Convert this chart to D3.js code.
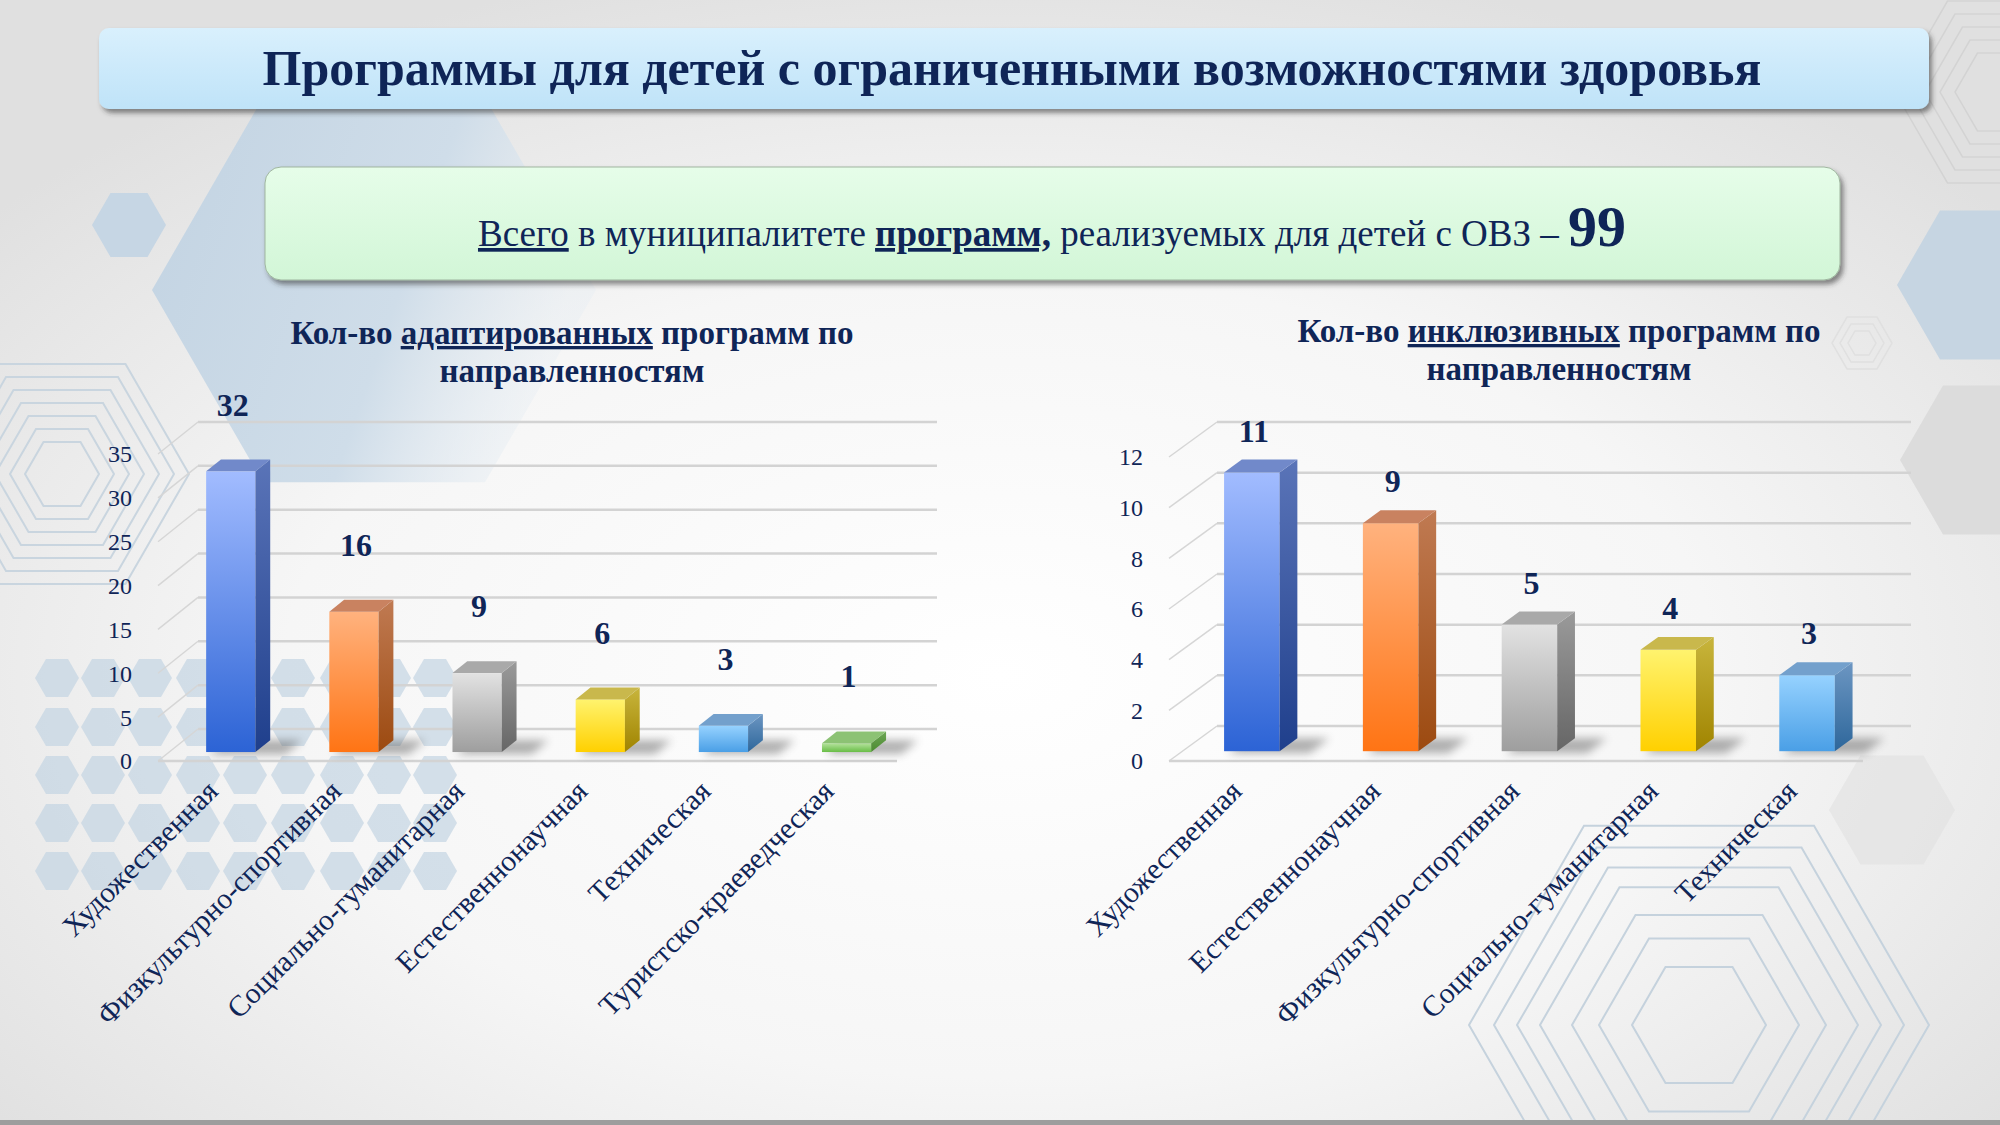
<!DOCTYPE html>
<html>
<head>
<meta charset="utf-8">
<script src="https://cdn.jsdelivr.net/npm/d3@7"></script>
<style>
  html, body { margin: 0; padding: 0; overflow: hidden; background: #e6e6e6; }
  svg { display: block; }
</style>
</head>
<body>
<svg id="slide"></svg>
<script>
// Данные
const adaptedCategories = ["Художественная", "Физкультурно-спортивная", "Социально-гуманитарная", "Естественнонаучная", "Техническая", "Туристско-краеведческая"];
const adaptedValues = [32, 16, 9, 6, 3, 1];
const adaptedTicks = [0, 5, 10, 15, 20, 25, 30, 35];

const inclusiveCategories = ["Художественная", "Естественнонаучная", "Физкультурно-спортивная", "Социально-гуманитарная", "Техническая"];
const inclusiveValues = [11, 9, 5, 4, 3];
const inclusiveTicks = [0, 2, 4, 6, 8, 10, 12];

const totalPrograms = 99;

// Цвета столбцов по порядку
const palette = [
    { light: "#a2bcff", dark: "#2c63d5", side1: "#5a74b8", side2: "#1f3f8c", top: "#7189ca" },
    { light: "#ffb27e", dark: "#ff7414", side1: "#c07a52", side2: "#9c4a10", top: "#c98260" },
    { light: "#e2e2e2", dark: "#9e9e9e", side1: "#9a9a9a", side2: "#666666", top: "#a9a9a9" },
    { light: "#fff36e", dark: "#ffd000", side1: "#c8b53c", side2: "#a08400", top: "#c9b84c" },
    { light: "#96d2ff", dark: "#4a9fe6", side1: "#6c96c2", side2: "#2e679b", top: "#73a0cc" },
    { light: "#b4e29c", dark: "#68bd46", side1: "#6ea656", side2: "#4b8a30", top: "#8cc274" }
];

const navy = "#0f2557";
const serif = "'Liberation Serif', 'Times New Roman', serif";

const width = 2000;
const height = 1125;

const svg = d3.select("#slide")
    .attr("width", width)
    .attr("height", height);

const defs = svg.append("defs");

// Фон
const bg = defs.append("radialGradient").attr("id", "bg")
    .attr("cx", 0.5).attr("cy", 0.6).attr("r", 0.65);
bg.append("stop").attr("offset", 0).attr("stop-color", "#ffffff");
bg.append("stop").attr("offset", 0.55).attr("stop-color", "#f6f6f6");
bg.append("stop").attr("offset", 1).attr("stop-color", "#e0e0e0");

const bigHex = defs.append("linearGradient").attr("id", "bigHex")
    .attr("x1", 0).attr("y1", 0).attr("x2", 1).attr("y2", 0.3);
bigHex.append("stop").attr("offset", 0).attr("stop-color", "#c2d3e2");
bigHex.append("stop").attr("offset", 0.65).attr("stop-color", "#cfdde9");
bigHex.append("stop").attr("offset", 1).attr("stop-color", "#e6edf3").attr("stop-opacity", 0.4);

const titleFill = defs.append("linearGradient").attr("id", "titleFill")
    .attr("x1", 0).attr("y1", 0).attr("x2", 0).attr("y2", 1);
titleFill.append("stop").attr("offset", 0).attr("stop-color", "#d9f0fd");
titleFill.append("stop").attr("offset", 1).attr("stop-color", "#bfe3f8");

const greenFill = defs.append("linearGradient").attr("id", "greenFill")
    .attr("x1", 0).attr("y1", 0).attr("x2", 0).attr("y2", 1);
greenFill.append("stop").attr("offset", 0).attr("stop-color", "#e6fde9");
greenFill.append("stop").attr("offset", 1).attr("stop-color", "#d2f6d7");

const drop = defs.append("filter").attr("id", "drop")
    .attr("x", -0.05).attr("y", -0.2).attr("width", 1.1).attr("height", 1.5);
drop.append("feDropShadow").attr("dx", 3).attr("dy", 4).attr("stdDeviation", 2.5)
    .attr("flood-color", "#333").attr("flood-opacity", 0.55);

const blur = defs.append("filter").attr("id", "blur")
    .attr("x", -0.5).attr("y", -2).attr("width", 2).attr("height", 5);
blur.append("feGaussianBlur").attr("stdDeviation", 4);

palette.forEach((p, i) => {
    const f = defs.append("linearGradient").attr("id", `front${i}`)
        .attr("x1", 0).attr("y1", 0).attr("x2", 0).attr("y2", 1);
    f.append("stop").attr("offset", 0).attr("stop-color", p.light);
    f.append("stop").attr("offset", 1).attr("stop-color", p.dark);
    const s = defs.append("linearGradient").attr("id", `side${i}`)
        .attr("x1", 0).attr("y1", 0).attr("x2", 0).attr("y2", 1);
    s.append("stop").attr("offset", 0).attr("stop-color", p.side1);
    s.append("stop").attr("offset", 1).attr("stop-color", p.side2);
});

svg.append("rect").attr("width", width).attr("height", height).attr("fill", "url(#bg)");

// Шестиугольники (плоская вершина)
function hex(cx, cy, r) {
    return d3.range(6).map(k => {
        const a = Math.PI / 3 * k;
        return [cx + r * Math.cos(a), cy + r * Math.sin(a)];
    }).map(p => p.join(",")).join(" ");
}

const deco = svg.append("g");
deco.append("polygon").attr("points", hex(374, 290, 222)).attr("fill", "url(#bigHex)");
deco.append("polygon").attr("points", hex(129, 225, 37)).attr("fill", "#c6d6e4");

[37, 52, 67, 82, 97, 112, 127].forEach(r => {
    deco.append("polygon").attr("points", hex(62, 474, r))
        .attr("fill", "none").attr("stroke", "#c9d5df").attr("stroke-width", 2);
});

[678, 727, 775, 823, 871].forEach(cy => {
    [57, 103, 150, 198, 245, 293, 342, 389, 435].forEach(cx => {
        deco.append("polygon").attr("points", hex(cx, cy, 22))
            .attr("fill", "#c3d4e2").attr("opacity", 0.7);
    });
});

deco.append("polygon").attr("points", hex(1983, 285, 86)).attr("fill", "#c6d5e2");
deco.append("polygon").attr("points", hex(1986, 460, 86)).attr("fill", "#dcdcdc");
deco.append("polygon").attr("points", hex(1892, 810, 63)).attr("fill", "#e2e2e2").attr("opacity", 0.7);

[45, 60, 75, 90, 105].forEach(r => {
    deco.append("polygon").attr("points", hex(2000, 92, r))
        .attr("fill", "none").attr("stroke", "#d3d3d3").attr("stroke-width", 1.5);
});
[14, 22, 30].forEach(r => {
    deco.append("polygon").attr("points", hex(1862, 343, r))
        .attr("fill", "none").attr("stroke", "#e0e0e0").attr("stroke-width", 1.5);
});
[67, 100, 127, 159, 182, 205, 230].forEach(r => {
    deco.append("polygon").attr("points", hex(1699, 1025, r))
        .attr("fill", "none").attr("stroke", "#c5d2dd").attr("stroke-width", 2);
});

svg.append("rect").attr("x", 0).attr("y", 1120).attr("width", width).attr("height", 5).attr("fill", "#9d9d9d");

// Заголовок
svg.append("rect")
    .attr("x", 99).attr("y", 28).attr("width", 1830).attr("height", 81).attr("rx", 10)
    .attr("fill", "url(#titleFill)")
    .attr("filter", "url(#drop)");

svg.append("text")
    .attr("x", 1012).attr("y", 85)
    .attr("text-anchor", "middle")
    .style("font-family", serif)
    .style("font-size", "50px")
    .style("font-weight", "bold")
    .attr("fill", navy)
    .text("Программы для детей с ограниченными возможностями здоровья");

// Итоговая плашка
svg.append("rect")
    .attr("x", 265).attr("y", 167).attr("width", 1575).attr("height", 113).attr("rx", 16)
    .attr("fill", "url(#greenFill)")
    .attr("stroke", "#9fb59f").attr("stroke-width", 1)
    .attr("filter", "url(#drop)");

const total = svg.append("text")
    .attr("x", 1052).attr("y", 246)
    .attr("text-anchor", "middle")
    .style("font-family", serif)
    .style("font-size", "37px")
    .attr("fill", navy);
total.append("tspan").attr("text-decoration", "underline").text("Всего");
total.append("tspan").text(" в муниципалитете ");
total.append("tspan").attr("text-decoration", "underline").style("font-weight", "bold").text("программ,");
total.append("tspan").text(" реализуемых для детей с ОВЗ – ");
total.append("tspan").style("font-weight", "bold").style("font-size", "58px").text(totalPrograms);

// Диаграмма
function drawChart(cfg) {
    const g = svg.append("g");
    const dx = cfg.dx, dy = cfg.dy;

    const x = d3.scaleBand()
        .domain(cfg.categories)
        .range([cfg.x0, cfg.x1]);

    const y = d3.scaleLinear()
        .domain([0, cfg.max])
        .range([cfg.base, cfg.top]);

    // Заголовок диаграммы
    const t = g.append("text")
        .attr("text-anchor", "middle")
        .style("font-family", serif)
        .style("font-size", "33px")
        .style("font-weight", "bold")
        .attr("fill", navy);
    const l1 = t.append("tspan").attr("x", cfg.titleX).attr("y", cfg.titleY);
    l1.append("tspan").text("Кол-во ");
    l1.append("tspan").attr("text-decoration", "underline").text(cfg.titleWord);
    l1.append("tspan").text(" программ по");
    t.append("tspan").attr("x", cfg.titleX).attr("y", cfg.titleY + 38).text("направленностям");

    // Стенки и сетка
    cfg.ticks.forEach(v => {
        g.append("line")
            .attr("x1", cfg.x0 + dx).attr("x2", cfg.x1 + dx)
            .attr("y1", y(v) + dy).attr("y2", y(v) + dy)
            .attr("stroke", "#d3d3d3").attr("stroke-width", 2.5);
        g.append("line")
            .attr("x1", cfg.x0).attr("x2", cfg.x0 + dx)
            .attr("y1", y(v)).attr("y2", y(v) + dy)
            .attr("stroke", "#d6d6d6").attr("stroke-width", 1.5);
    });
    g.append("line")
        .attr("x1", cfg.x0).attr("x2", cfg.x1)
        .attr("y1", y(0)).attr("y2", y(0))
        .attr("stroke", "#d3d3d3").attr("stroke-width", 2.5);

    // Ось Y
    g.append("g")
        .selectAll("text")
        .data(cfg.ticks)
        .join("text")
        .attr("x", cfg.x0 - 26)
        .attr("y", d => y(d))
        .attr("dy", "0.35em")
        .attr("text-anchor", "end")
        .style("font-family", serif)
        .style("font-size", "24px")
        .attr("fill", navy)
        .text(d => d);

    // Столбцы
    const bw = x.bandwidth() * 0.4;
    const f0 = 0.28, depth = 0.37;
    const data = cfg.values.map((v, i) => ({ cat: cfg.categories[i], v, i }));

    g.append("g")
        .selectAll("g")
        .data(data)
        .join("g")
        .each(function(d) {
            const gg = d3.select(this);
            const cx = x(d.cat) + x.bandwidth() / 2 + f0 * dx;
            const baseY = y(0) + f0 * dy;
            const topY = y(d.v) + f0 * dy;
            const l = cx - bw / 2, r = cx + bw / 2;
            const ox = depth * dx, oy = depth * dy;
            const pts = a => a.map(p => p.join(",")).join(" ");

            gg.append("polygon")
                .attr("points", pts([[l + 4, baseY + 2], [r + 30, baseY + 2], [r + ox + 32, baseY + oy], [l + ox + 4, baseY + oy]]))
                .attr("fill", "#555").attr("opacity", 0.45).attr("filter", "url(#blur)");

            gg.append("rect")
                .attr("x", l).attr("y", topY)
                .attr("width", bw).attr("height", baseY - topY)
                .attr("fill", `url(#front${d.i})`);

            gg.append("polygon")
                .attr("points", pts([[r, topY], [r + ox, topY + oy], [r + ox, baseY + oy], [r, baseY]]))
                .attr("fill", `url(#side${d.i})`);

            gg.append("polygon")
                .attr("points", pts([[l, topY], [l + ox, topY + oy], [r + ox, topY + oy], [r, topY]]))
                .attr("fill", palette[d.i].top);

            gg.append("text")
                .attr("x", cx + 2)
                .attr("y", topY + oy - cfg.labelGap)
                .attr("text-anchor", "middle")
                .style("font-family", serif)
                .style("font-size", "32px")
                .style("font-weight", "bold")
                .attr("fill", navy)
                .text(d.v);
        });

    // Подписи категорий
    g.append("g")
        .selectAll("text")
        .data(cfg.categories)
        .join("text")
        .attr("transform", d => `translate(${x(d) + x.bandwidth() / 2 + cfg.labelDx},${cfg.base + 32}) rotate(-45)`)
        .attr("text-anchor", "end")
        .style("font-family", serif)
        .style("font-size", "29.5px")
        .attr("fill", navy)
        .text(d => d);
}

drawChart({
    categories: adaptedCategories, values: adaptedValues, ticks: adaptedTicks, max: 35,
    x0: 158, x1: 897, base: 761, top: 454, dx: 40, dy: -32, labelGap: 44, labelDx: 0,
    titleX: 572, titleY: 344, titleWord: "адаптированных"
});

drawChart({
    categories: inclusiveCategories, values: inclusiveValues, ticks: inclusiveTicks, max: 12,
    x0: 1169, x1: 1863, base: 761, top: 457, dx: 48, dy: -35, labelGap: 18, labelDx: 5,
    titleX: 1559, titleY: 342, titleWord: "инклюзивных"
});
</script>
</body>
</html>
